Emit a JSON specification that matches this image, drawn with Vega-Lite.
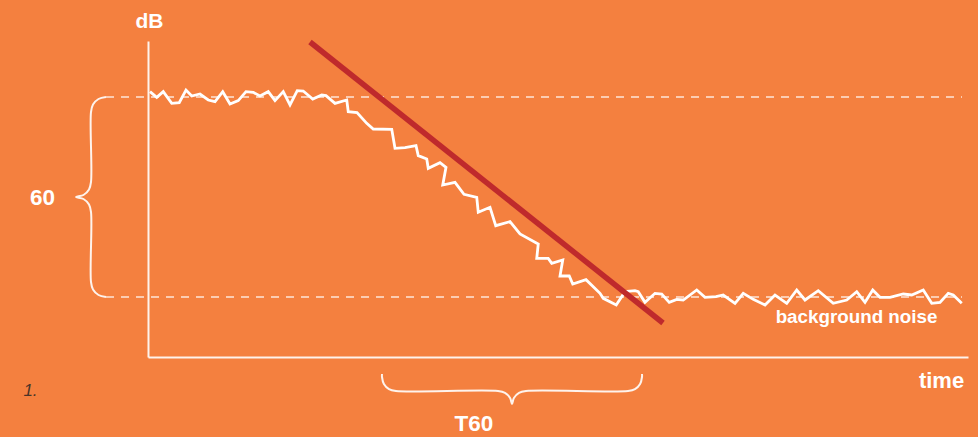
{
  "$schema": "https://vega.github.io/schema/vega-lite/v6.json",
  "width": 820,
  "height": 316,
  "autosize": {"type": "none"},
  "padding": {"left": 148, "top": 41, "right": 10, "bottom": 80},
  "background": "#F4803F",
  "config": {
    "view": {"stroke": null},
    "font": "Liberation Sans"
  },
  "datasets": {
    "decay": [
      {"i": 1, "t": 0.008, "dB": 1.6}, {"i": 2, "t": 0.035, "dB": -0.1}, {"i": 3, "t": 0.061, "dB": 1.6},
      {"i": 4, "t": 0.095, "dB": -1.9}, {"i": 5, "t": 0.125, "dB": -1.7}, {"i": 6, "t": 0.152, "dB": 2.1},
      {"i": 7, "t": 0.175, "dB": 0.3}, {"i": 8, "t": 0.208, "dB": 0.9}, {"i": 9, "t": 0.241, "dB": -0.9},
      {"i": 10, "t": 0.268, "dB": -1.4}, {"i": 11, "t": 0.299, "dB": 1.6}, {"i": 12, "t": 0.328, "dB": -2.1},
      {"i": 13, "t": 0.361, "dB": -1.1}, {"i": 14, "t": 0.392, "dB": 1.6}, {"i": 15, "t": 0.421, "dB": 1.4},
      {"i": 16, "t": 0.448, "dB": 0.3}, {"i": 17, "t": 0.481, "dB": 1.6}, {"i": 18, "t": 0.508, "dB": -1.1},
      {"i": 19, "t": 0.541, "dB": 1.6}, {"i": 20, "t": 0.568, "dB": -2.4}, {"i": 21, "t": 0.597, "dB": 1.9},
      {"i": 22, "t": 0.621, "dB": 1.8}, {"i": 23, "t": 0.659, "dB": -0.6}, {"i": 24, "t": 0.695, "dB": 0.6},
      {"i": 25, "t": 0.712, "dB": 0.4}, {"i": 26, "t": 0.748, "dB": -1.9}, {"i": 27, "t": 0.795, "dB": -0.9},
      {"i": 28, "t": 0.801, "dB": -4.4}, {"i": 29, "t": 0.836, "dB": -4.65}, {"i": 30, "t": 0.875, "dB": -7.9},
      {"i": 31, "t": 0.901, "dB": -9.6}, {"i": 32, "t": 0.975, "dB": -9.7}, {"i": 33, "t": 0.988, "dB": -15.4},
      {"i": 34, "t": 1.028, "dB": -15.2}, {"i": 35, "t": 1.072, "dB": -14.6}, {"i": 36, "t": 1.081, "dB": -17.6},
      {"i": 37, "t": 1.115, "dB": -18.6}, {"i": 38, "t": 1.121, "dB": -21.4}, {"i": 39, "t": 1.168, "dB": -19.7},
      {"i": 40, "t": 1.192, "dB": -21.1}, {"i": 41, "t": 1.179, "dB": -26.4}, {"i": 42, "t": 1.228, "dB": -25.6},
      {"i": 43, "t": 1.264, "dB": -29.2}, {"i": 44, "t": 1.315, "dB": -30.1}, {"i": 45, "t": 1.321, "dB": -34.6},
      {"i": 46, "t": 1.368, "dB": -33.1}, {"i": 47, "t": 1.391, "dB": -38.6}, {"i": 48, "t": 1.448, "dB": -37.4},
      {"i": 49, "t": 1.488, "dB": -41.1}, {"i": 50, "t": 1.561, "dB": -44.1}, {"i": 51, "t": 1.555, "dB": -48.4},
      {"i": 52, "t": 1.601, "dB": -48.4}, {"i": 53, "t": 1.615, "dB": -49.9}, {"i": 54, "t": 1.659, "dB": -48.9},
      {"i": 55, "t": 1.648, "dB": -53.7}, {"i": 56, "t": 1.685, "dB": -53.7}, {"i": 57, "t": 1.699, "dB": -56.1},
      {"i": 58, "t": 1.752, "dB": -54.8}, {"i": 59, "t": 1.808, "dB": -58.9}, {"i": 60, "t": 1.821, "dB": -60.4},
      {"i": 61, "t": 1.873, "dB": -62.4}, {"i": 62, "t": 1.908, "dB": -58.4}, {"i": 63, "t": 1.948, "dB": -58.1},
      {"i": 64, "t": 1.961, "dB": -58.4}, {"i": 65, "t": 1.988, "dB": -61.6}, {"i": 66, "t": 2.028, "dB": -58.9},
      {"i": 67, "t": 2.055, "dB": -59.1}, {"i": 68, "t": 2.085, "dB": -61.6}, {"i": 69, "t": 2.115, "dB": -60.7},
      {"i": 70, "t": 2.141, "dB": -60.9}, {"i": 71, "t": 2.195, "dB": -57.9}, {"i": 72, "t": 2.228, "dB": -60.1},
      {"i": 73, "t": 2.272, "dB": -59.9}, {"i": 74, "t": 2.301, "dB": -59.4}, {"i": 75, "t": 2.348, "dB": -61.9},
      {"i": 76, "t": 2.381, "dB": -58.9}, {"i": 77, "t": 2.421, "dB": -60.7}, {"i": 78, "t": 2.468, "dB": -62.4},
      {"i": 79, "t": 2.508, "dB": -59.4}, {"i": 80, "t": 2.555, "dB": -61.9}, {"i": 81, "t": 2.595, "dB": -57.9},
      {"i": 82, "t": 2.628, "dB": -60.9}, {"i": 83, "t": 2.681, "dB": -58.1}, {"i": 84, "t": 2.741, "dB": -61.9},
      {"i": 85, "t": 2.795, "dB": -60.9}, {"i": 86, "t": 2.835, "dB": -58.4}, {"i": 87, "t": 2.868, "dB": -61.6},
      {"i": 88, "t": 2.899, "dB": -57.9}, {"i": 89, "t": 2.928, "dB": -60.1}, {"i": 90, "t": 2.968, "dB": -60.1},
      {"i": 91, "t": 3.021, "dB": -59.1}, {"i": 92, "t": 3.055, "dB": -59.4}, {"i": 93, "t": 3.101, "dB": -57.9},
      {"i": 94, "t": 3.135, "dB": -61.9}, {"i": 95, "t": 3.168, "dB": -61.6}, {"i": 96, "t": 3.201, "dB": -58.9},
      {"i": 97, "t": 3.221, "dB": -59.4}, {"i": 98, "t": 3.255, "dB": -61.9}
    ],
    "fit": [
      {"i": 1, "t": 0.648, "dB": 16.5},
      {"i": 2, "t": 2.06, "dB": -67.8}
    ],
    "levels": [
      {"t": -0.168, "t2": 3.256, "dB": 0},
      {"t": -0.168, "t2": 3.256, "dB": -60}
    ],
    "braces": [
      {"piece": "range", "i": 1, "t": -0.168, "dB": 0},
      {"piece": "range", "i": 2, "t": -0.198, "dB": -0.6},
      {"piece": "range", "i": 3, "t": -0.22, "dB": -2.25},
      {"piece": "range", "i": 4, "t": -0.228, "dB": -4.5},
      {"piece": "range", "i": 5, "t": -0.228, "dB": -25.5},
      {"piece": "range", "i": 6, "t": -0.236, "dB": -27.75},
      {"piece": "range", "i": 7, "t": -0.258, "dB": -29.4},
      {"piece": "range", "i": 8, "t": -0.288, "dB": -30},
      {"piece": "range", "i": 9, "t": -0.258, "dB": -30.6},
      {"piece": "range", "i": 10, "t": -0.236, "dB": -32.25},
      {"piece": "range", "i": 11, "t": -0.228, "dB": -34.5},
      {"piece": "range", "i": 12, "t": -0.228, "dB": -55.5},
      {"piece": "range", "i": 13, "t": -0.22, "dB": -57.75},
      {"piece": "range", "i": 14, "t": -0.198, "dB": -59.4},
      {"piece": "range", "i": 15, "t": -0.168, "dB": -60},
      {"piece": "decay", "i": 1, "t": 0.936, "dB": -83.1},
      {"piece": "decay", "i": 2, "t": 0.936, "dB": -84},
      {"piece": "decay", "i": 3, "t": 0.9436, "dB": -86.1},
      {"piece": "decay", "i": 4, "t": 0.964, "dB": -87.63},
      {"piece": "decay", "i": 5, "t": 0.992, "dB": -88.2},
      {"piece": "decay", "i": 6, "t": 1.4, "dB": -88.2},
      {"piece": "decay", "i": 7, "t": 1.428, "dB": -88.77},
      {"piece": "decay", "i": 8, "t": 1.4484, "dB": -90.3},
      {"piece": "decay", "i": 9, "t": 1.456, "dB": -92.1},
      {"piece": "decay", "i": 10, "t": 1.4636, "dB": -90.3},
      {"piece": "decay", "i": 11, "t": 1.484, "dB": -88.77},
      {"piece": "decay", "i": 12, "t": 1.512, "dB": -88.2},
      {"piece": "decay", "i": 13, "t": 1.92, "dB": -88.2},
      {"piece": "decay", "i": 14, "t": 1.948, "dB": -87.63},
      {"piece": "decay", "i": 15, "t": 1.9684, "dB": -86.1},
      {"piece": "decay", "i": 16, "t": 1.976, "dB": -84},
      {"piece": "decay", "i": 17, "t": 1.976, "dB": -83.1}
    ],
    "bigLabels": [
      {"t": -0.422, "dB": -30.2, "label": "60"},
      {"t": 1.304, "dB": -98.1, "label": "T60"}
    ],
    "noiseLabel": [
      {"t": 2.834, "dB": -67.8, "label": "background noise"}
    ],
    "figureNumber": [
      {"t": -0.47, "dB": -88.2, "label": "1."}
    ]
  },
  "encoding": {
    "x": {
      "field": "t",
      "type": "quantitative",
      "scale": {"domain": [0, 3.28], "nice": false, "zero": false},
      "axis": {
        "title": "time",
        "grid": false,
        "ticks": false,
        "labels": false,
        "domainColor": "#FFFFFF",
        "domainOpacity": 0.9,
        "domainWidth": 2,
        "titleColor": "#FFFFFF",
        "titleFont": "Liberation Sans",
        "titleFontSize": 22,
        "titleFontWeight": "bold",
        "titleAlign": "center",
        "titleBaseline": "alphabetic",
        "titleX": 793,
        "titleY": 30
      }
    },
    "y": {
      "field": "dB",
      "type": "quantitative",
      "scale": {"domain": [-78, 16.8], "nice": false, "zero": false},
      "axis": {
        "title": "dB",
        "grid": false,
        "ticks": false,
        "labels": false,
        "domainColor": "#FFFFFF",
        "domainOpacity": 0.9,
        "domainWidth": 2,
        "titleColor": "#FFFFFF",
        "titleFont": "Liberation Sans",
        "titleFontSize": 21,
        "titleFontWeight": "bold",
        "titleAngle": 0,
        "titleAlign": "center",
        "titleBaseline": "alphabetic",
        "titleX": 1,
        "titleY": -14
      }
    }
  },
  "layer": [
    {
      "data": {"name": "levels"},
      "mark": {"type": "rule", "color": "#FFFFFF", "opacity": 0.8, "strokeWidth": 1.5, "strokeDash": [8, 7]},
      "encoding": {"x2": {"field": "t2"}}
    },
    {
      "data": {"name": "braces"},
      "mark": {"type": "line", "color": "#FFFFFF", "opacity": 0.9, "strokeWidth": 2, "interpolate": "catmull-rom"},
      "encoding": {"detail": {"field": "piece"}, "order": {"field": "i"}}
    },
    {
      "data": {"name": "decay"},
      "mark": {"type": "line", "color": "#FFFFFF", "strokeWidth": 2.8, "strokeJoin": "miter"},
      "encoding": {"order": {"field": "i"}}
    },
    {
      "data": {"name": "fit"},
      "mark": {"type": "line", "color": "#BF2A2C", "strokeWidth": 5.5, "strokeCap": "butt"},
      "encoding": {"order": {"field": "i"}}
    },
    {
      "data": {"name": "bigLabels"},
      "mark": {"type": "text", "color": "#FFFFFF", "font": "Liberation Sans", "fontSize": 22.5, "fontWeight": "bold", "align": "center", "baseline": "middle"},
      "encoding": {"text": {"field": "label"}}
    },
    {
      "data": {"name": "noiseLabel"},
      "mark": {"type": "text", "color": "#FFFFFF", "font": "Liberation Sans", "fontSize": 18.8, "fontWeight": "bold", "align": "center", "baseline": "alphabetic"},
      "encoding": {"text": {"field": "label"}}
    },
    {
      "data": {"name": "figureNumber"},
      "mark": {"type": "text", "color": "#4A3428", "font": "Liberation Sans", "fontSize": 17, "fontStyle": "italic", "align": "center", "baseline": "middle"},
      "encoding": {"text": {"field": "label"}}
    }
  ]
}
